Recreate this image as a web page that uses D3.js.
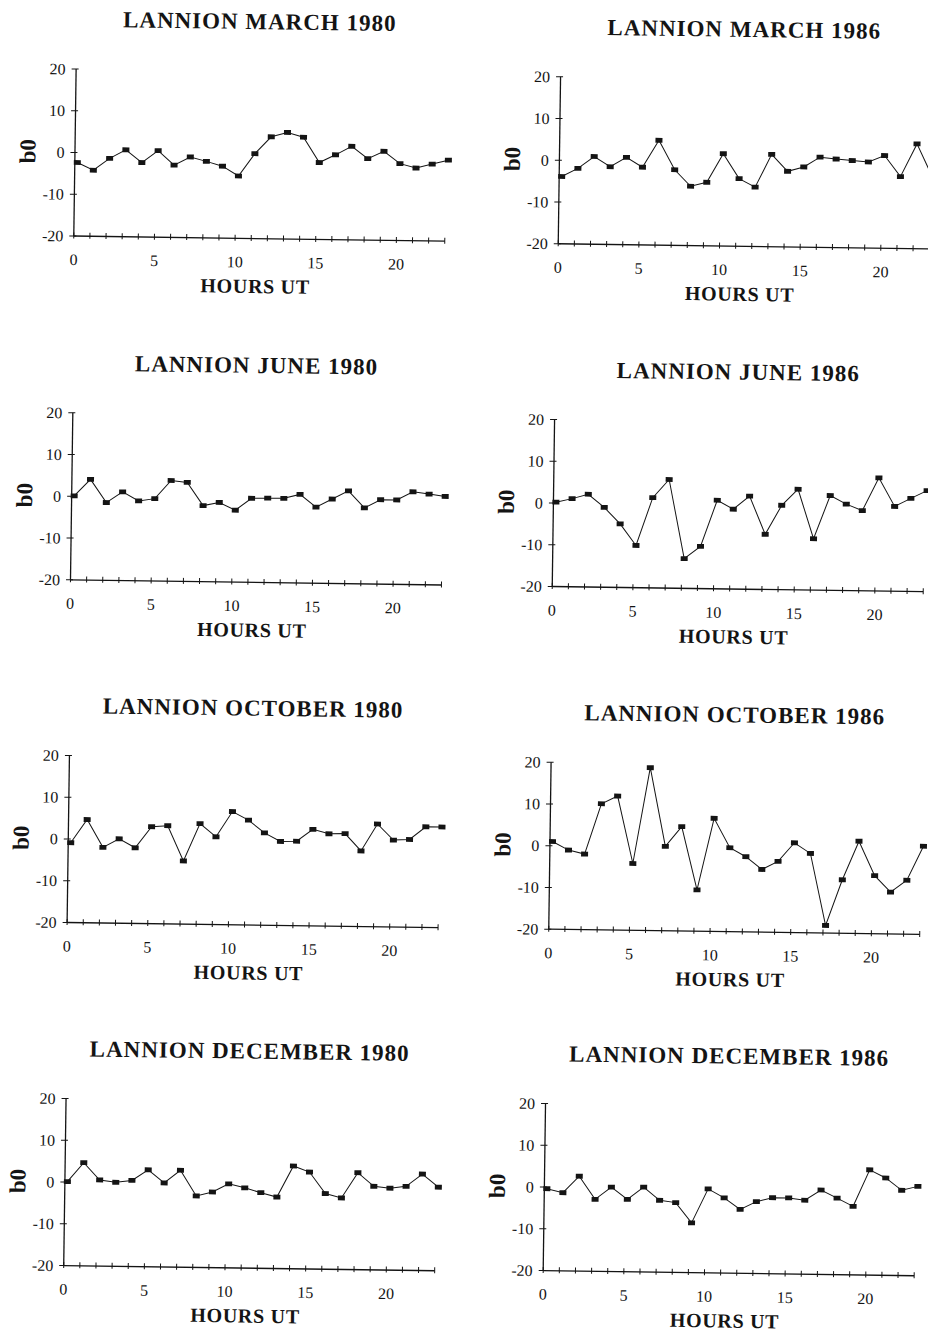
<!DOCTYPE html>
<html>
<head>
<meta charset="utf-8">
<script src="https://cdn.jsdelivr.net/npm/d3@7"></script>
<style>
  body { margin: 0; background: #fff; }
  svg { display: block; }
</style>
</head>
<body>
<svg id="chart" width="928" height="1337"></svg>
<script>
// Hourly b0 values at Lannion, four months in 1980 and 1986
const hours = [0, 1, 2, 3, 4, 5, 6, 7, 8, 9, 10, 11, 12, 13, 14, 15, 16, 17, 18, 19, 20, 21, 22, 23];
const xTickLabels = [0, 5, 10, 15, 20];
const yTicks = [-20, -10, 0, 10, 20];

const panelTitles = [
  "LANNION MARCH 1980", "LANNION MARCH 1986",
  "LANNION JUNE 1980", "LANNION JUNE 1986",
  "LANNION OCTOBER 1980", "LANNION OCTOBER 1986",
  "LANNION DECEMBER 1980", "LANNION DECEMBER 1986"
];

const march1980 = [-2.5, -4.3, -1.4, 0.7, -2.3, 0.6, -2.8, -0.8, -1.8, -2.9, -5.2, 0.2, 4.3, 5.4, 4.3, -1.7, 0.2, 2.3, -0.6, 1.2, -1.7, -2.7, -1.7, -0.7];
const march1986 = [-4.0, -2.0, 0.9, -1.5, 0.8, -1.5, 5.0, -2.0, -5.9, -4.9, 2.0, -3.9, -5.9, 2.0, -2.0, -0.9, 1.5, 1.1, 0.8, 0.5, 2.1, -2.9, 5.0, -3.0];
const june1980 = [0.0, 4.0, -1.5, 1.1, -1.0, -0.4, 4.0, 3.6, -1.9, -1.1, -2.9, 0.0, 0.1, 0.1, 1.1, -1.9, 0.1, 2.1, -1.9, 0.1, 0.1, 2.1, 1.6, 1.1];
const june1986 = [0.1, 1.0, 2.1, -1.0, -4.9, -10.0, 1.5, 5.9, -13.0, -10.0, 1.1, -1.0, 2.2, -6.9, 0.1, 4.0, -7.8, 2.6, 0.6, -0.9, 7.0, 0.2, 2.2, 4.1];
const october1980 = [-1.0, 4.6, -2.0, 0.1, -2.0, 3.1, 3.4, -5.0, 4.0, 0.9, 7.0, 5.0, 2.0, 0.0, 0.1, 3.0, 2.0, 2.1, -2.0, 4.5, 0.7, 0.9, 4.0, 4.0];
const october1986 = [0.9, -1.1, -2.0, 10.1, 12.0, -4.1, 18.9, 0.1, 4.9, -10.2, 7.0, 0.0, -2.1, -5.1, -3.1, 1.4, -1.1, -18.3, -7.3, 2.0, -6.2, -10.1, -7.2, 1.0];
const december1980 = [0.0, 4.6, 0.5, 0.0, 0.5, 3.1, 0.0, 3.1, -3.0, -2.0, 0.0, -0.9, -2.0, -3.0, 4.5, 3.1, -2.0, -3.0, 3.1, -0.1, -0.5, 0.0, 3.0, -0.1];
const december1986 = [-0.5, -1.4, 2.6, -2.9, 0.1, -2.8, 0.2, -2.9, -3.4, -8.2, 0.0, -2.1, -4.8, -2.9, -1.9, -1.9, -2.4, 0.1, -1.8, -3.7, 5.1, 3.2, 0.3, 1.3];

const panelSeries = [march1980, march1986, june1980, june1986, october1980, october1986, december1980, december1986];

// Page layout: plot origin (hour 0, b0 = -20) of each panel
const plotW = 371, plotH = 167;
const originX = [67.3, 551.8, 68.8, 550.6, 70.2, 551.9, 71.6, 551.1];
const originY = [241, 242, 584.8, 584.8, 927.5, 927.5, 1270.6, 1268.9];
const pageTilt = 0.8;          // the printed page sits slightly skewed
const markerShift = 3;         // markers sit just right of their hour tick
const ink = "#141414";
const serif = "'Liberation Serif', 'Times New Roman', serif";

const svg = d3.select("#chart");
svg.append("rect").attr("width", 928).attr("height", 1337).attr("fill", "#fff");

const page = svg.append("g").attr("transform", `rotate(${pageTilt} 464 668)`);

const x = d3.scaleLinear().domain([0, 23]).range([0, plotW]);
const y = d3.scaleLinear().domain([-20, 20]).range([0, -plotH]);

const line = d3.line()
  .x((d, i) => x(hours[i]) + markerShift)
  .y(d => y(d));

panelSeries.forEach((series, k) => {
  const g = page.append("g")
    .attr("transform", `translate(${originX[k]},${originY[k]})`);

  // title
  g.append("text")
    .attr("x", plotW / 2 - 2)
    .attr("y", -209)
    .attr("text-anchor", "middle")
    .attr("font-family", serif)
    .attr("font-weight", "bold")
    .attr("font-size", 23)
    .attr("letter-spacing", 1)
    .attr("fill", ink)
    .text(panelTitles[k]);

  // x axis: a tick every hour, labels every five hours
  const xAxis = d3.axisBottom(x)
    .tickValues(hours)
    .tickSizeInner(3)
    .tickSizeOuter(0)
    .tickFormat(d => xTickLabels.includes(d) ? String(d) : "");
  const xg = g.append("g").attr("font-family", serif).call(xAxis);
  xg.select(".domain").attr("stroke", ink).attr("stroke-width", 1.3);
  xg.selectAll(".tick line").attr("y1", -3).attr("y2", 3).attr("stroke", ink).attr("stroke-width", 1);
  xg.selectAll(".tick text")
    .attr("y", 29.5).attr("dy", null)
    .attr("font-family", serif).attr("font-size", 16).attr("fill", ink);

  // y axis
  const yAxis = d3.axisLeft(y)
    .tickValues(yTicks)
    .tickSizeInner(4)
    .tickSizeOuter(0)
    .tickFormat(d => String(d));
  const yg = g.append("g").attr("font-family", serif).call(yAxis);
  yg.select(".domain").attr("stroke", ink).attr("stroke-width", 1.3);
  yg.selectAll(".tick line").attr("x1", 3).attr("x2", -4).attr("stroke", ink).attr("stroke-width", 1);
  yg.selectAll(".tick text")
    .attr("x", -10).attr("dy", "0.35em")
    .attr("font-family", serif).attr("font-size", 16).attr("fill", ink);

  // axis titles
  g.append("text")
    .attr("transform", `translate(-39,${-plotH / 2}) rotate(-90)`)
    .attr("text-anchor", "middle")
    .attr("font-family", serif)
    .attr("font-weight", "bold")
    .attr("font-size", 23)
    .attr("fill", ink)
    .text("b0");

  g.append("text")
    .attr("x", plotW / 2 - 3)
    .attr("y", 55)
    .attr("text-anchor", "middle")
    .attr("font-family", serif)
    .attr("font-weight", "bold")
    .attr("font-size", 20)
    .attr("letter-spacing", 0.7)
    .attr("fill", ink)
    .text("HOURS UT");

  // series line and square markers
  g.append("path")
    .datum(series)
    .attr("d", line)
    .attr("fill", "none")
    .attr("stroke", ink)
    .attr("stroke-width", 1);

  g.selectAll("rect.marker")
    .data(series)
    .join("rect")
    .attr("class", "marker")
    .attr("x", (d, i) => x(hours[i]) + markerShift - 3.5)
    .attr("y", d => y(d) - 2.4)
    .attr("width", 7)
    .attr("height", 4.8)
    .attr("fill", ink);
});
</script>
</body>
</html>
